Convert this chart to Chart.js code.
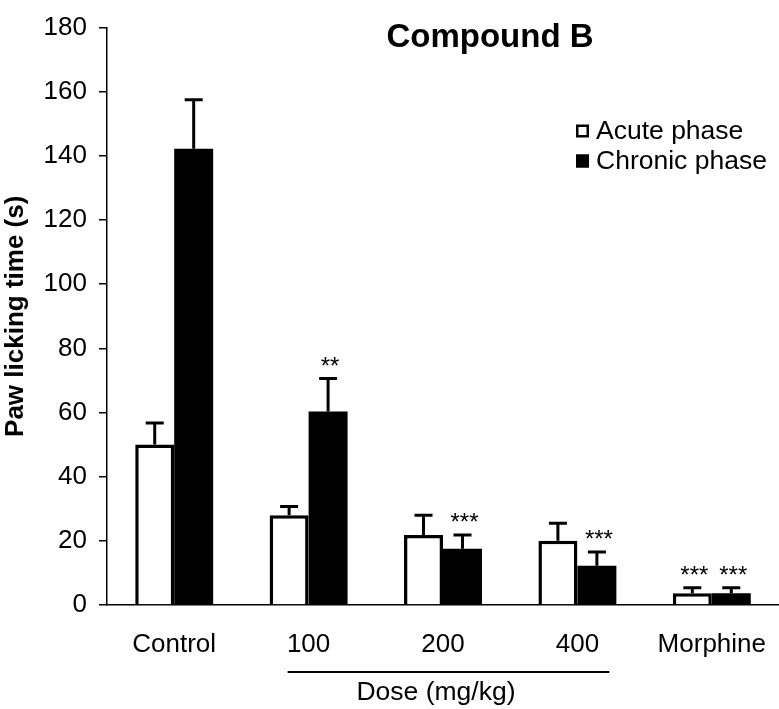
<!DOCTYPE html>
<html>
<head>
<meta charset="utf-8">
<script src="https://cdn.jsdelivr.net/npm/chart.js@4"></script>
<style>
  body { margin: 0; background: #fff; }
</style>
</head>
<body>
<canvas id="chart" width="779" height="709"></canvas>
<script>
const categories = ["Control", "100", "200", "400", "Morphine"];
const acuteMeans = [50, 28, 21.8, 20, 3.7];
const acuteErrors = [6.7, 2.7, 6.2, 5.5, 1.7];
const chronicMeans = [142.2, 60.3, 17.5, 12.2, 3.7];
const chronicErrors = [15.3, 10.3, 4.3, 4.3, 1.7];
const acuteStars = ["", "", "", "", "***"];
const chronicStars = ["", "**", "***", "***", "***"];
const yMax = 180;
const yStep = 20;

Chart.defaults.font.family = "Arial, 'Liberation Sans', sans-serif";
Chart.defaults.color = "#000";

// error bars + significance stars
const errorBars = {
    id: "errorBars",
    afterDatasetsDraw(chart) {
        const ctx = chart.ctx;
        const y = chart.scales.y;
        ctx.save();
        ctx.strokeStyle = "#000";
        ctx.fillStyle = "#000";
        ctx.lineWidth = 3;
        chart.data.datasets.forEach((ds, i) => {
            chart.getDatasetMeta(i).data.forEach((bar, j) => {
                const top = y.getPixelForValue(ds.data[j]);
                const cap = y.getPixelForValue(ds.data[j] + ds.errors[j]);
                ctx.beginPath();
                ctx.moveTo(bar.x, top);
                ctx.lineTo(bar.x, cap);
                ctx.moveTo(bar.x - 9, cap);
                ctx.lineTo(bar.x + 9, cap);
                ctx.stroke();
                if (ds.stars[j]) {
                    ctx.font = "24px Arial, 'Liberation Sans', sans-serif";
                    ctx.textAlign = "center";
                    ctx.textBaseline = "alphabetic";
                    ctx.fillText(ds.stars[j], bar.x + 2, cap - 19 + 14);
                }
            });
        });
        ctx.restore();
    },
    afterDraw(chart) {
        const ctx = chart.ctx;
        const x = chart.scales.x;
        ctx.save();
        ctx.fillStyle = "#000";
        ctx.strokeStyle = "#000";

        // title
        ctx.font = "bold 33px Arial, 'Liberation Sans', sans-serif";
        ctx.textAlign = "center";
        ctx.textBaseline = "middle";
        ctx.fillText("Compound B", 490, 38);

        // legend
        ctx.font = "26.5px Arial, 'Liberation Sans', sans-serif";
        ctx.textAlign = "left";
        chart.data.datasets.forEach((ds, i) => {
            const cy = 131 + i * 30;
            ctx.fillStyle = ds.backgroundColor;
            ctx.fillRect(576, cy - 6.5, 13, 13);
            ctx.lineWidth = 2.5;
            ctx.strokeRect(577.25, cy - 5.25, 10.5, 10.5);
            ctx.fillStyle = "#000";
            ctx.fillText(ds.label, 596, cy + 1);
        });

        // dose bracket
        const x1 = x.getPixelForValue(1) - 21;
        const x2 = x.getPixelForValue(3) + 32;
        ctx.lineWidth = 2;
        ctx.beginPath();
        ctx.moveTo(x1, 672);
        ctx.lineTo(x2, 672);
        ctx.stroke();
        ctx.textAlign = "center";
        ctx.fillText("Dose (mg/kg)", 436, 693);
        ctx.restore();
    }
};

new Chart(document.getElementById("chart"), {
    type: "bar",
    data: {
        labels: categories,
        datasets: [
            {
                label: "Acute phase",
                data: acuteMeans,
                errors: acuteErrors,
                stars: acuteStars,
                backgroundColor: "#fff",
                borderColor: "#000",
                borderWidth: 3.5
            },
            {
                label: "Chronic phase",
                data: chronicMeans,
                errors: chronicErrors,
                stars: chronicStars,
                backgroundColor: "#000",
                borderColor: "#000",
                borderWidth: 0
            }
        ]
    },
    options: {
        responsive: false,
        animation: false,
        layout: { padding: { top: 13, right: 0, bottom: 0, left: 0 } },
        plugins: {
            legend: { display: false },
            tooltip: { enabled: false }
        },
        datasets: {
            bar: { categoryPercentage: 0.58, barPercentage: 1 }
        },
        scales: {
            x: {
                grid: { display: false, drawTicks: false },
                border: { display: true, color: "#000", width: 1.5 },
                ticks: { font: { size: 26 }, color: "#000", padding: 24, maxRotation: 0 },
                afterFit(scale) {
                    scale.height = 104;
                    scale.paddingLeft = 0;
                    scale.paddingRight = 0;
                }
            },
            y: {
                min: 0,
                max: yMax,
                ticks: { stepSize: yStep, font: { size: 26 }, color: "#000", padding: 12 },
                grid: { drawOnChartArea: false, drawTicks: true, tickLength: 8, color: "#000", lineWidth: 1.5 },
                border: { display: true, color: "#000", width: 1.5 },
                title: {
                    display: true,
                    text: "Paw licking time (s)",
                    font: { size: 26, weight: "bold" },
                    color: "#000",
                    padding: { top: 0, bottom: 0 }
                },
                afterFit(scale) { scale.width = 107; }
            }
        }
    },
    plugins: [errorBars]
});
</script>
</body>
</html>
